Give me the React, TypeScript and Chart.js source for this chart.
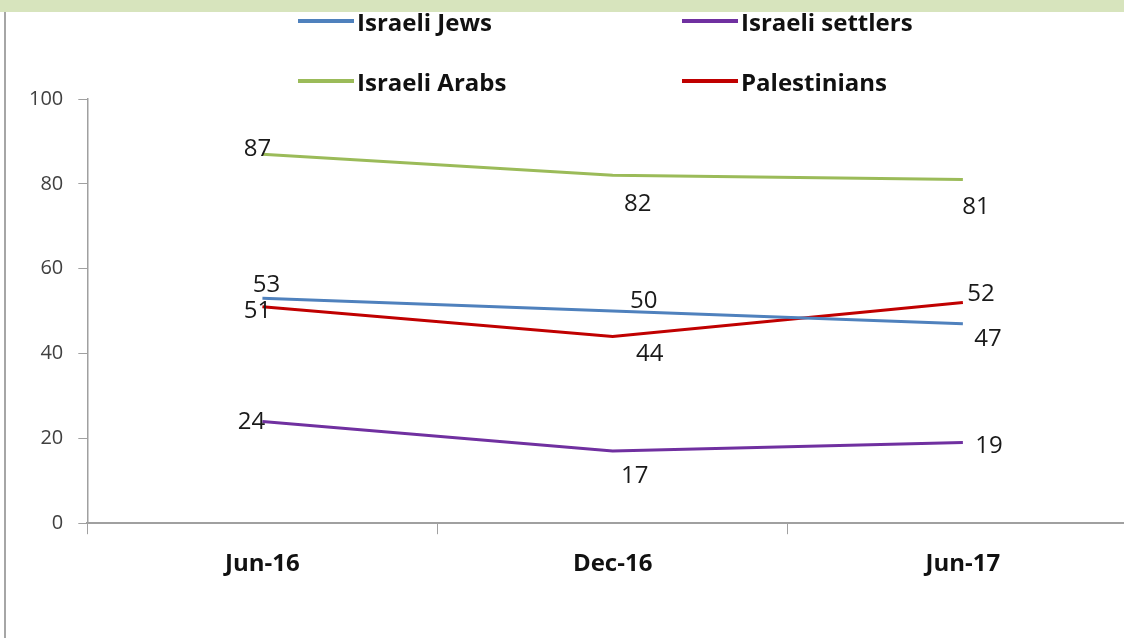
import { useEffect, useRef } from "react";
import { Chart, registerables } from "chart.js";
import type { Plugin } from "chart.js";

Chart.register(...registerables);

// values
const periods = ["Jun-16", "Dec-16", "Jun-17"];
const israeliJews = [53, 50, 47];
const israeliSettlers = [24, 17, 19];
const israeliArabs = [87, 82, 81];
const palestinians = [51, 44, 52];
const yTicks = [0, 20, 40, 60, 80, 100];

const seriesNames = ["Israeli Jews", "Israeli settlers", "Israeli Arabs", "Palestinians"];
const seriesColors = ["#4f81bd", "#7030a0", "#9bbb59", "#c00000"];

// where each value label sits relative to its point (px)
const labelOffsets: [number, number][][] = [
  [[4, -13], [31, -10], [25, 15]],
  [[-11, 1], [22, 25], [26, 4]],
  [[-5, -5], [25, 29], [13, 28]],
  [[-5, 4], [37, 18], [18, -8]],
];

const FONT = "'Open Sans', 'Noto Sans', sans-serif";

const valueLabels: Plugin<"line"> = {
  id: "valueLabels",
  afterDatasetsDraw(chart) {
    const { ctx } = chart;
    ctx.save();
    ctx.font = `24px ${FONT}`;
    ctx.fillStyle = "#1a1a1a";
    ctx.textAlign = "center";
    ctx.textBaseline = "middle";
    chart.data.datasets.forEach((ds, i) => {
      const meta = chart.getDatasetMeta(i);
      meta.data.forEach((pt, j) => {
        const [dx, dy] = labelOffsets[i][j];
        ctx.fillText(String(ds.data[j]), pt.x + dx, pt.y + dy);
      });
    });
    ctx.restore();
  },
};

const App = () => {
  const chartRef = useRef<HTMLCanvasElement | null>(null);
  const chartInstance = useRef<Chart | null>(null);

  useEffect(() => {
    document.body.style.margin = "0";
    if (!chartRef.current) return;
    const ctx = chartRef.current.getContext("2d") as CanvasRenderingContext2D;

    if (chartInstance.current) chartInstance.current.destroy();

    const values = [israeliJews, israeliSettlers, israeliArabs, palestinians];

    chartInstance.current = new Chart(ctx, {
      type: "line",
      data: {
        labels: periods,
        datasets: values.map((v, i) => ({
          label: seriesNames[i],
          data: v,
          borderColor: seriesColors[i],
          backgroundColor: seriesColors[i],
          borderWidth: 3,
          pointRadius: 0,
          tension: 0,
        })),
      },
      options: {
        animation: false,
        responsive: true,
        maintainAspectRatio: false,
        layout: { padding: { top: 99, left: 14, right: 22, bottom: 43 } },
        plugins: {
          legend: { display: false },
          tooltip: { enabled: false },
        },
        scales: {
          x: {
            offset: true,
            grid: {
              offset: true,
              drawOnChartArea: false,
              tickLength: 11,
              color: "#a0a0a0",
            },
            border: { color: "#a0a0a0", width: 2 },
            ticks: {
              padding: 16,
              color: "#111",
              font: { family: FONT, size: 24, weight: "bold" },
            },
          },
          y: {
            min: 0,
            max: 100,
            afterBuildTicks: (scale) => {
              scale.ticks = yTicks.map((v) => ({ value: v }));
            },
            grid: {
              drawOnChartArea: false,
              tickLength: 9,
              color: "#a0a0a0",
            },
            border: { color: "#a0a0a0", width: 1.5 },
            ticks: {
              padding: 15,
              color: "#404040",
              font: { family: FONT, size: 20 },
            },
          },
        },
      },
      plugins: [valueLabels],
    });

    return () => {
      if (chartInstance.current) {
        chartInstance.current.destroy();
        chartInstance.current = null;
      }
    };
  }, []);

  const legendCols = [298, 682];
  const legendRows = [21, 81];

  return (
    <div
      style={{
        position: "fixed",
        left: 0,
        top: 0,
        width: 1124,
        height: 638,
        overflow: "hidden",
        background: "#fff",
      }}
    >
      <div style={{ position: "absolute", left: 0, top: 0, width: 1124, height: 12, background: "#d7e4bd" }} />
      <div style={{ position: "absolute", left: 4, top: 12, width: 2, height: 626, background: "#a6a6a6" }} />
      <div style={{ position: "absolute", left: 0, top: 0, width: 1160, height: 638 }}>
        <canvas ref={chartRef} />
      </div>
      {seriesNames.map((name, i) => (
        <div
          key={name}
          style={{
            position: "absolute",
            left: legendCols[i % 2],
            top: legendRows[Math.floor(i / 2)] - 17,
            height: 34,
            display: "flex",
            alignItems: "center",
            fontFamily: FONT,
            fontWeight: "bold",
            fontSize: 24,
            color: "#111",
            whiteSpace: "nowrap",
          }}
        >
          <span
            style={{
              display: "inline-block",
              width: 56,
              height: 4,
              background: seriesColors[i],
              marginRight: 3,
            }}
          />
          {name}
        </div>
      ))}
    </div>
  );
};

export default App;
